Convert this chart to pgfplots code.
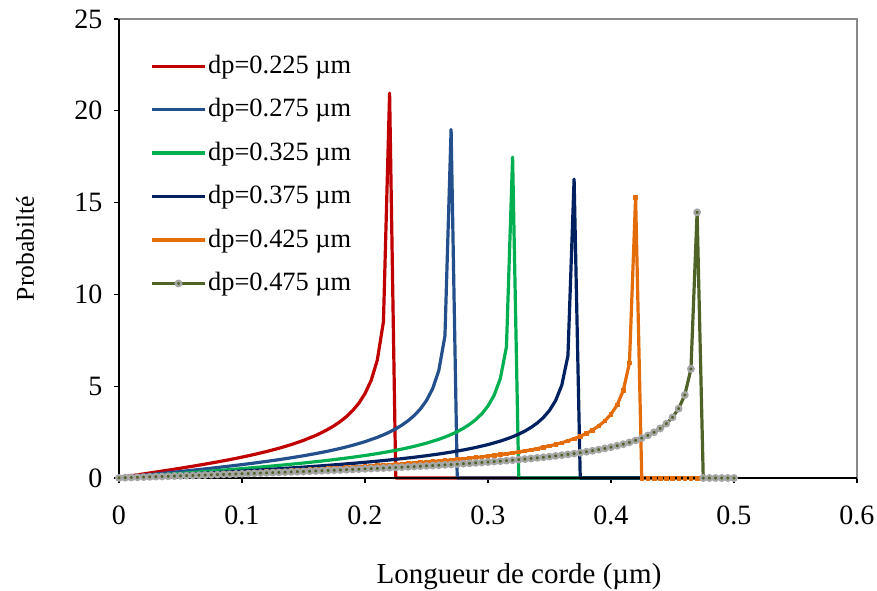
\documentclass[border=0pt]{standalone}
\usepackage{pgfplots}
\pgfplotsset{compat=1.18}
\usepackage{fontspec}
\setmainfont{Liberation Serif}
\definecolor{cred}{RGB}{192,0,0}
\definecolor{cblue}{RGB}{35,80,140}
\definecolor{cgreen}{RGB}{0,176,80}
\definecolor{cnavy}{RGB}{0,32,96}
\definecolor{corange}{RGB}{228,108,10}
\definecolor{colive}{RGB}{79,98,40}
\definecolor{cframe}{RGB}{137,137,137}
\begin{document}
\fontsize{12.5}{15}\selectfont
\begin{tikzpicture}
\begin{axis}[
  scale only axis, width=369pt, height=229.5pt,
  xmin=0, xmax=0.6, ymin=0, ymax=25,
  xtick={0,0.1,0.2,0.3,0.4,0.5,0.6},
  xticklabels={0,0.1,0.2,0.3,0.4,0.5,0.6},
  ytick={0,5,10,15,20,25},
  tick align=outside, tick pos=left,
  major tick length=2.5pt,
  tick style={black, line width=0.6pt},
  axis line style={draw=cframe, line width=1pt},
  xticklabel style={yshift=-7pt},
  yticklabel style={xshift=-1.5pt},
  /pgf/number format/assume math mode=true,
  ticklabel style={font=\fontsize{14}{16}\selectfont},
  xlabel={Longueur de corde (µm)},
  ylabel={Probabilté},
  xlabel style={font=\fontsize{14.5}{17}\selectfont, at={(axis description cs:0.542,-0.2157)}, anchor=center},
  ylabel style={font=\fontsize{12.8}{15}\selectfont, at={(axis description cs:-0.1274,0.5)}, anchor=center},
  clip=false,
  legend cell align=left,
  legend style={draw=none, fill=none, inner sep=0pt,
    at={(axis description cs:0.042,0.931)}, anchor=north west,
    row sep=6.7pt, font=\fontsize{13.2}{15.5}\selectfont,
    nodes={inner xsep=0.8pt}},
  legend image code/.code={\draw[mark repeat=2,mark phase=2,#1] plot coordinates {(0pt,0pt) (13.25pt,0pt) (26.5pt,0pt)};},
  every axis plot/.append style={line join=round},
]
\addplot[cred, line width=1.6pt, no markers] coordinates {
(0,0.0247) (0.01,0.1237) (0.02,0.2233) (0.03,0.3244) (0.04,0.4274) (0.05,0.5332)
(0.06,0.6426) (0.07,0.7564) (0.08,0.8758) (0.09,1.0022) (0.1,1.1372) (0.11,1.2830)
(0.12,1.4424) (0.13,1.6192) (0.14,1.8186) (0.15,2.0485) (0.16,2.3204) (0.165,2.478)
(0.17,2.656) (0.175,2.853) (0.18,3.084) (0.185,3.351) (0.19,3.676) (0.195,4.076)
(0.2,4.598) (0.205,5.316) (0.21,6.420) (0.215,8.516) (0.22,20.964) (0.225,0) (0.5,0)};
\addlegendentry{dp=0.225 µm}
\addplot[cblue, line width=1.6pt, no markers] coordinates {
(0,0.0165) (0.01,0.0827) (0.02,0.1493) (0.03,0.2164) (0.04,0.2844) (0.05,0.3536)
(0.06,0.4243) (0.07,0.4969) (0.08,0.5718) (0.09,0.6494) (0.1,0.7303) (0.11,0.8151)
(0.12,0.9046) (0.13,0.9997) (0.14,1.1016) (0.15,1.2117) (0.16,1.3318) (0.17,1.4644)
(0.18,1.6130) (0.19,1.7822) (0.2,1.9788) (0.21,2.2135) (0.215,2.351) (0.22,2.504)
(0.225,2.678) (0.23,2.880) (0.235,3.118) (0.24,3.402) (0.245,3.758) (0.25,4.222)
(0.255,4.864) (0.26,5.853) (0.265,7.740) (0.27,18.982) (0.275,0) (0.5,0)};
\addlegendentry{dp=0.275 µm}
\addplot[cgreen, line width=1.6pt, no markers] coordinates {
(0,0.0118) (0.01,0.0592) (0.02,0.1068) (0.03,0.1546) (0.04,0.2029) (0.05,0.2518)
(0.06,0.3015) (0.07,0.3521) (0.08,0.4038) (0.09,0.4568) (0.1,0.5113) (0.11,0.5676)
(0.12,0.6261) (0.13,0.6869) (0.14,0.7505) (0.15,0.8175) (0.16,0.8882) (0.17,0.9635)
(0.18,1.0440) (0.19,1.1310) (0.2,1.2255) (0.21,1.3295) (0.22,1.4450) (0.23,1.5751)
(0.24,1.7242) (0.25,1.8984) (0.26,2.1075) (0.265,2.231) (0.27,2.368) (0.275,2.525)
(0.28,2.706) (0.285,2.920) (0.29,3.180) (0.295,3.502) (0.3,3.923) (0.305,4.509)
(0.31,5.414) (0.315,7.142) (0.32,17.474) (0.325,0) (0.5,0)};
\addlegendentry{dp=0.325 µm}
\addplot[cnavy, line width=1.6pt, no markers] coordinates {
(0,0.0089) (0.01,0.0445) (0.02,0.0801) (0.03,0.1160) (0.04,0.1521) (0.05,0.1885)
(0.06,0.2254) (0.07,0.2627) (0.08,0.3007) (0.09,0.3394) (0.1,0.3789) (0.11,0.4193)
(0.12,0.4608) (0.13,0.5036) (0.14,0.5478) (0.15,0.5935) (0.16,0.6411) (0.17,0.6907)
(0.18,0.7428) (0.19,0.7975) (0.2,0.8554) (0.21,0.9170) (0.22,0.9828) (0.23,1.0536)
(0.24,1.1304) (0.25,1.2143) (0.26,1.3069) (0.27,1.4103) (0.28,1.5273) (0.29,1.6619)
(0.3,1.8199) (0.31,2.0101) (0.315,2.123) (0.32,2.247) (0.325,2.392) (0.33,2.557)
(0.335,2.755) (0.34,2.993) (0.345,3.291) (0.35,3.680) (0.355,4.221) (0.36,5.060)
(0.365,6.664) (0.37,16.276) (0.375,0) (0.5,0)};
\addlegendentry{dp=0.375 µm}
\addplot[corange, line width=1.6pt, mark=square*, mark size=0.9pt, mark options={solid, fill=corange, draw=corange, line width=0.3pt}] coordinates {
(0,0.0069) (0.005,0.0208) (0.01,0.0346) (0.015,0.0485) (0.02,0.0624) (0.025,0.0763)
(0.03,0.0902) (0.035,0.1042) (0.04,0.1182) (0.045,0.1323) (0.05,0.1464) (0.055,0.1606)
(0.06,0.1749) (0.065,0.1892) (0.07,0.2037) (0.075,0.2182) (0.08,0.2328) (0.085,0.2475)
(0.09,0.2623) (0.095,0.2773) (0.1,0.2924) (0.105,0.3076) (0.11,0.3229) (0.115,0.3385)
(0.12,0.3541) (0.125,0.3700) (0.13,0.3860) (0.135,0.4023) (0.14,0.4187) (0.145,0.4354)
(0.15,0.4523) (0.155,0.4694) (0.16,0.4868) (0.165,0.5045) (0.17,0.5225) (0.175,0.5408)
(0.18,0.5594) (0.185,0.5784) (0.19,0.5977) (0.195,0.6174) (0.2,0.6376) (0.205,0.6582)
(0.21,0.6792) (0.215,0.7008) (0.22,0.7229) (0.225,0.7456) (0.23,0.7688) (0.235,0.7928)
(0.24,0.8174) (0.245,0.8428) (0.25,0.8689) (0.255,0.8960) (0.26,0.9240) (0.265,0.9529)
(0.27,0.9830) (0.275,1.0142) (0.28,1.0467) (0.285,1.0806) (0.29,1.1161) (0.295,1.1532)
(0.3,1.1921) (0.305,1.2331) (0.31,1.2763) (0.315,1.3221) (0.32,1.3707) (0.325,1.4225)
(0.33,1.4778) (0.335,1.5372) (0.34,1.6013) (0.345,1.6709) (0.35,1.7467) (0.355,1.8301)
(0.36,1.922) (0.365,2.026) (0.37,2.142) (0.375,2.275) (0.38,2.431) (0.385,2.613)
(0.39,2.835) (0.395,3.113) (0.4,3.476) (0.405,3.982) (0.41,4.768) (0.415,6.271)
(0.42,15.294) (0.425,0) (0.43,0) (0.435,0) (0.44,0) (0.445,0) (0.45,0) (0.455,0)
(0.46,0) (0.465,0) (0.47,0) (0.475,0) (0.48,0) (0.485,0) (0.49,0) (0.495,0) (0.5,0)};
\addlegendentry{dp=0.425 µm}
\addplot[colive, line width=1.6pt, mark=*, mark size=1.4pt, mark options={solid, fill=colive, draw=black!35, line width=1.1pt}] coordinates {
(0,0.0055) (0.005,0.0166) (0.01,0.0277) (0.015,0.0388) (0.02,0.0499) (0.025,0.0610)
(0.03,0.0722) (0.035,0.0834) (0.04,0.0946) (0.045,0.1058) (0.05,0.1171) (0.055,0.1284)
(0.06,0.1397) (0.065,0.1511) (0.07,0.1626) (0.075,0.1741) (0.08,0.1856) (0.085,0.1973)
(0.09,0.2090) (0.095,0.2208) (0.1,0.2326) (0.105,0.2446) (0.11,0.2566) (0.115,0.2687)
(0.12,0.2810) (0.125,0.2933) (0.13,0.3058) (0.135,0.3183) (0.14,0.3310) (0.145,0.3439)
(0.15,0.3568) (0.155,0.3700) (0.16,0.3832) (0.165,0.3967) (0.17,0.4103) (0.175,0.4241)
(0.18,0.4381) (0.185,0.4522) (0.19,0.4666) (0.195,0.4812) (0.2,0.4961) (0.205,0.5112)
(0.21,0.5265) (0.215,0.5422) (0.22,0.5581) (0.225,0.5743) (0.23,0.5908) (0.235,0.6077)
(0.24,0.6250) (0.245,0.6426) (0.25,0.6606) (0.255,0.6791) (0.26,0.6980) (0.265,0.7174)
(0.27,0.7373) (0.275,0.7577) (0.28,0.7787) (0.285,0.8004) (0.29,0.8227) (0.295,0.8457)
(0.3,0.8695) (0.305,0.8941) (0.31,0.9195) (0.315,0.9460) (0.32,0.9734) (0.325,1.0020)
(0.33,1.0318) (0.335,1.0629) (0.34,1.0954) (0.345,1.1296) (0.35,1.1654) (0.355,1.2032)
(0.36,1.2431) (0.365,1.2854) (0.37,1.3304) (0.375,1.3783) (0.38,1.4296) (0.385,1.4848)
(0.39,1.5444) (0.395,1.6091) (0.4,1.6798) (0.405,1.7574) (0.41,1.8436) (0.415,1.9400)
(0.42,2.0488) (0.425,2.174) (0.43,2.319) (0.435,2.492) (0.44,2.700) (0.445,2.960)
(0.45,3.303) (0.455,3.780) (0.46,4.520) (0.465,5.940) (0.47,14.472) (0.475,0)
(0.48,0) (0.485,0) (0.49,0) (0.495,0) (0.5,0)};
\addlegendentry{dp=0.475 µm}
\draw[black, line width=0.8pt] (rel axis cs:0,1) -- (rel axis cs:0,0) -- (rel axis cs:1,0);
\coordinate (ll) at (rel axis cs:0,0);
\coordinate (ur) at (rel axis cs:1,1);
\end{axis}
\pgfresetboundingbox
\path[use as bounding box] ([shift={(-59.5pt,-56pt)}]ll) rectangle ([shift={(10pt,9.5pt)}]ur);
\end{tikzpicture}
\end{document}
